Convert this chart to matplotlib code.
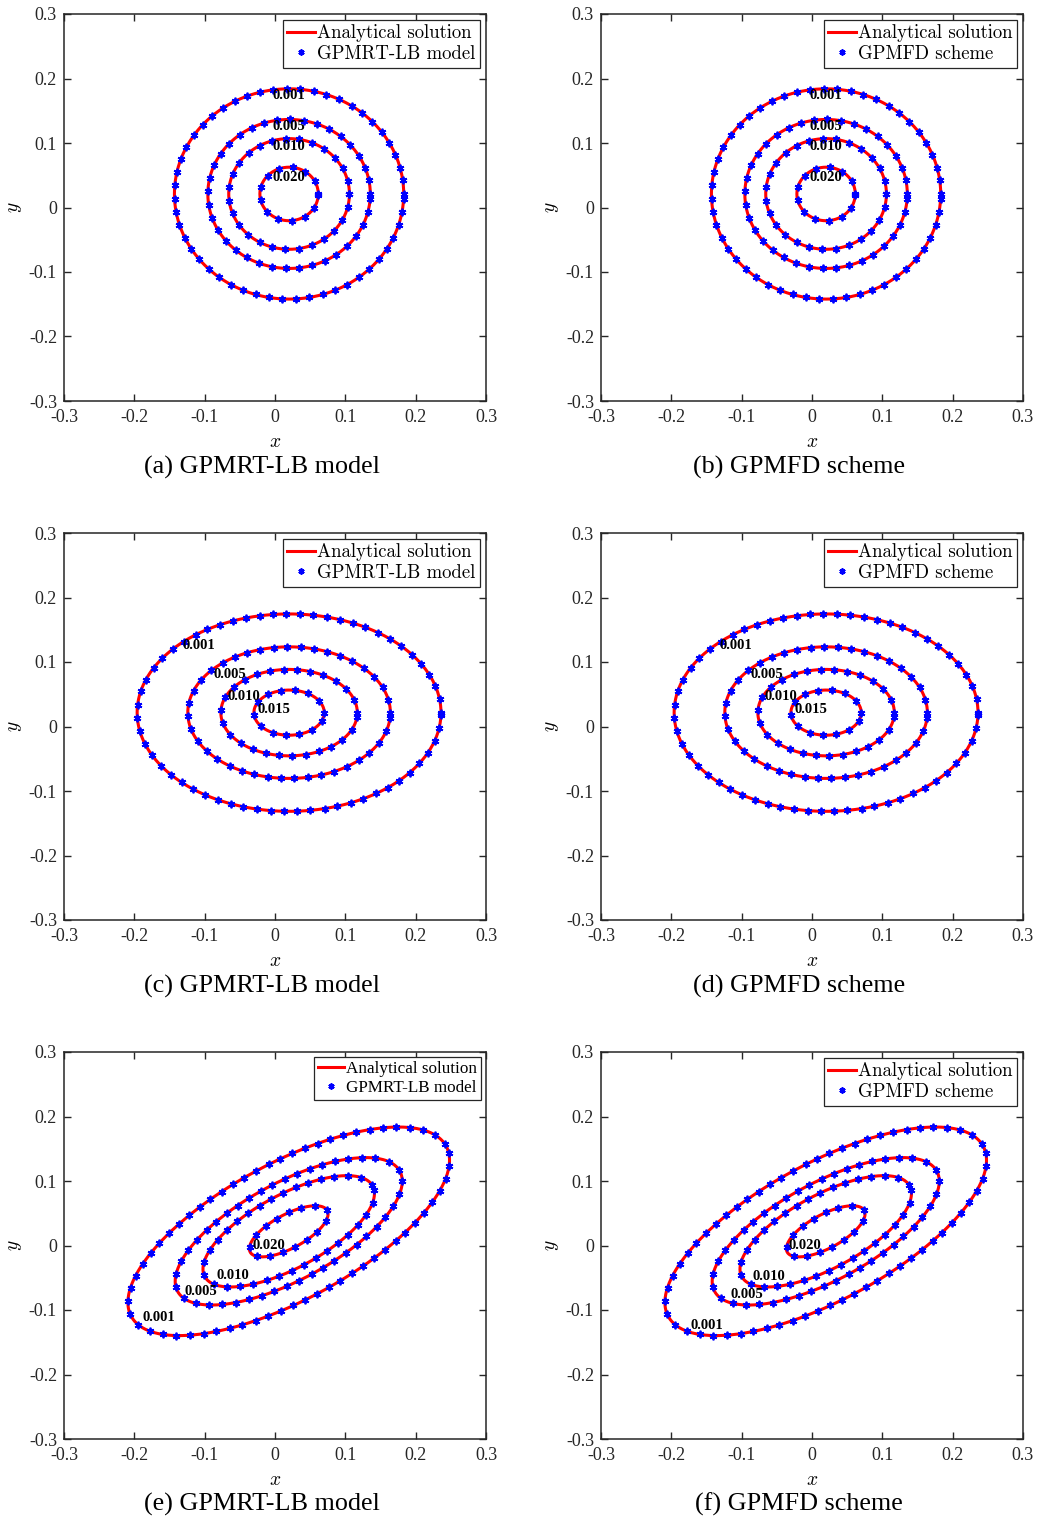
import numpy as np
import matplotlib
matplotlib.use("Agg")
import matplotlib.pyplot as plt

# ------------------------------------------------------------------
# Données
tick_values = [-0.3, -0.2, -0.1, 0, 0.1, 0.2, 0.3]
tick_labels = ['-0.3', '-0.2', '-0.1', '0', '0.1', '0.2', '0.3']

# ligne 1 : cercles
levels_1 = ['0.001', '0.005', '0.010', '0.020']
center_1 = (0.020, 0.021)
semi_x_1 = [0.163, 0.1155, 0.0858, 0.0415]
semi_y_1 = [0.163, 0.1155, 0.0858, 0.0415]
angle_1 = 0.0
labels_pos_1 = [(0.02, 0.173), (0.02, 0.125), (0.02, 0.095), (0.02, 0.046)]

# ligne 2 : ellipses
levels_2 = ['0.001', '0.005', '0.010', '0.015']
center_2 = (0.020, 0.0215)
semi_x_2 = [0.216, 0.144, 0.097, 0.050]
semi_y_2 = [0.153, 0.102, 0.067, 0.035]
angle_2 = 0.0
labels_pos_2 = [(-0.108, 0.125), (-0.064, 0.081), (-0.044, 0.046), (-0.001, 0.027)]

# ligne 3 : ellipses inclinées
levels_3 = ['0.001', '0.005', '0.010', '0.020']
center_3 = (0.0195, 0.022)
semi_x_3 = [0.260, 0.1835, 0.1386, 0.0636]
semi_y_3 = [0.104, 0.0738, 0.0557, 0.0256]
angle_3 = 31.3
labels_pos_3e = [(-0.165, -0.112), (-0.105, -0.072), (-0.060, -0.046), (-0.008, 0.0)]
labels_pos_3f = [(-0.149, -0.124), (-0.092, -0.076), (-0.062, -0.048), (-0.010, 0.0)]

captions = ['(a) GPMRT-LB model', '(b) GPMFD scheme',
            '(c) GPMRT-LB model', '(d) GPMFD scheme',
            '(e) GPMRT-LB model', '(f) GPMFD scheme']
legend_model = ['GPMRT-LB model', 'GPMFD scheme']

# ------------------------------------------------------------------
plt.rcParams['mathtext.fontset'] = 'cm'
plt.rcParams['axes.unicode_minus'] = False
serif = 'Liberation Serif'
plt.rcParams['font.family'] = serif
plt.rcParams['xtick.labelsize'] = 13
plt.rcParams['ytick.labelsize'] = 13

W, H = 1038, 1520
fig = plt.figure(figsize=(W / 100, H / 100), dpi=100)

col_left = [64, 601]
row_top = [14, 533, 1052]
ax_w, ax_h = 422, 387


def contour_curve(center, ax_x, ax_y, angle):
    t = np.linspace(0, 2 * np.pi, 721)
    th = np.deg2rad(angle)
    u = ax_x * np.cos(t)
    v = ax_y * np.sin(t)
    x = center[0] + u * np.cos(th) - v * np.sin(th)
    y = center[1] + u * np.sin(th) + v * np.cos(th)
    return x, y


def tracer_panneau(ax, levels, center, sx, sy, angle, lab_pos, model, leg_font):
    for i in range(len(levels)):
        x, y = contour_curve(center, sx[i], sy[i], angle)
        ax.plot(x, y, color='red', lw=2.2,
                label='Analytical solution' if i == 0 else None, zorder=2)
        ax.plot(x, y, ls='none', marker=(6, 2, 0), ms=5.5, mew=1.3, color='blue',
                markevery=0.0235, label=model if i == 0 else None, zorder=3)
        ax.text(lab_pos[i][0], lab_pos[i][1], levels[i], ha='center', va='center',
                fontsize=10.5, fontweight='bold', family=serif, zorder=4)

    ax.set_xlim(-0.3, 0.3)
    ax.set_ylim(-0.3, 0.3)
    ax.set_xticks(tick_values)
    ax.set_yticks(tick_values)
    ax.set_xticklabels(tick_labels)
    ax.set_yticklabels(tick_labels)
    ax.tick_params(direction='in', length=5, width=1, top=True, right=True,
                   color='#262626', labelcolor='#262626', labelsize=13)
    ax.tick_params(axis='x', pad=6)
    ax.tick_params(axis='y', pad=5)
    for sp in ax.spines.values():
        sp.set_linewidth(1.1)
        sp.set_color('#262626')
    ax.set_xlabel('$x$', fontsize=14)
    ax.set_ylabel('$y$', fontsize=14)
    ax.xaxis.set_label_coords(0.5, -0.085)
    ax.yaxis.set_label_coords(-0.094, 0.5)

    leg = ax.legend(loc='upper right', prop=leg_font, frameon=True, fancybox=False,
                    edgecolor='#262626', framealpha=1, borderpad=0.25,
                    labelspacing=0.15, handlelength=1.5, handletextpad=0.1,
                    borderaxespad=0.3, markerscale=0.8)
    leg.get_frame().set_linewidth(0.9)


cm_font = {'family': 'cmr10', 'size': 13.5}
times_font = {'family': serif, 'size': 12.3}

panels = [
    (levels_1, center_1, semi_x_1, semi_y_1, angle_1, labels_pos_1, labels_pos_1),
    (levels_2, center_2, semi_x_2, semi_y_2, angle_2, labels_pos_2, labels_pos_2),
    (levels_3, center_3, semi_x_3, semi_y_3, angle_3, labels_pos_3e, labels_pos_3f),
]

caption_x = [262, 799]
caption_y = [467, 986, 1504]

k = 0
for r, p in enumerate(panels):
    for c in range(2):
        rect = [col_left[c] / W, 1 - (row_top[r] + ax_h) / H, ax_w / W, ax_h / H]
        ax = fig.add_axes(rect)
        font = times_font if (r == 2 and c == 0) else cm_font
        tracer_panneau(ax, p[0], p[1], p[2], p[3], p[4], p[5 + c], legend_model[c], font)
        fig.text(caption_x[c] / W, 1 - caption_y[r] / H, captions[k], ha='center',
                 va='center', fontsize=18.8, family=serif)
        k += 1

fig.savefig('out.png', dpi=100)
